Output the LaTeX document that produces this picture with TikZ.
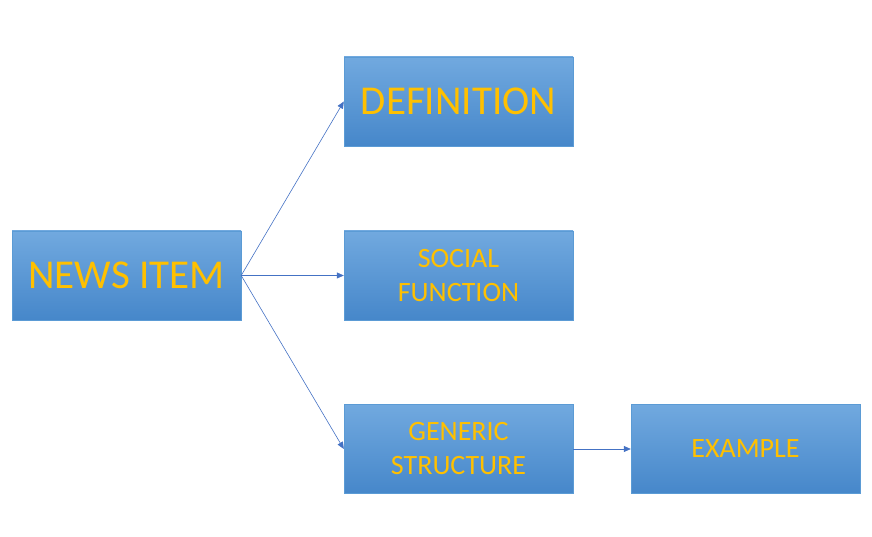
\documentclass[tikz,border=0pt]{standalone}
\usepackage{fontspec}
\setmainfont{Carlito}
\usepackage{xcolor}
\usetikzlibrary{positioning,arrows.meta}
\definecolor{boxtop}{HTML}{71A9DF}
\definecolor{boxbot}{HTML}{4687CA}
\definecolor{boxline}{HTML}{5B9BD5}
\definecolor{gold}{HTML}{FFC000}
\definecolor{linkblue}{HTML}{4472C4}
\tikzset{
  topicbox/.style={draw=boxline, top color=boxtop, bottom color=boxbot,
    minimum width=229pt, minimum height=89pt, text=gold, align=center,
    inner sep=0pt},
  bigtext/.style={font=\fontsize{41}{46}\selectfont},
  smalltext/.style={font=\fontsize{28}{34}\selectfont},
  link/.style={draw=linkblue, line width=0.6pt, -{Triangle[length=7pt,width=6pt]}}
}
\begin{document}
\begin{tikzpicture}[x=1pt,y=1pt]
    \useasboundingbox (0,0) rectangle (872,537);
    % main topic
    \node[topicbox, bigtext] (news) at (126.5,261.5) {NEWS ITEM};
    % sub topics
    \node[topicbox, bigtext] (def) at (458.5,435.5) {DEFINITION};
    \node[topicbox, smalltext] (social) at (458.5,261.5) {SOCIAL\\FUNCTION};
    \node[topicbox, smalltext] (generic) at (458.5,88) {GENERIC\\STRUCTURE};
    \node[topicbox, smalltext] (example) at (745.5,88) {EXAMPLE};

    \draw[link] (news.east) -- (def.west);
    \draw[link] (news.east) -- (social.west);
    \draw[link] (news.east) -- (generic.west);
    \draw[link] (generic.east) -- (example.west);
\end{tikzpicture}
\end{document}
